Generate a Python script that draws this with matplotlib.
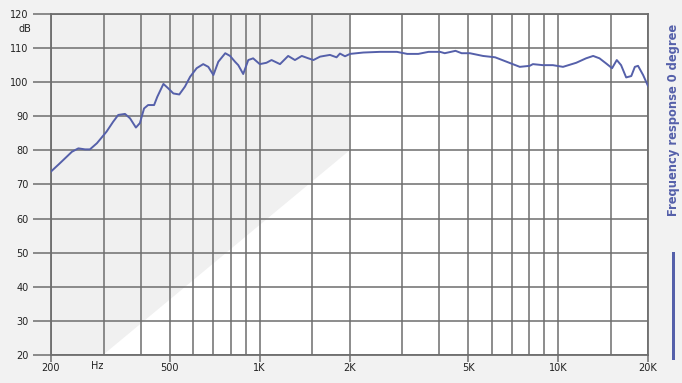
import matplotlib
matplotlib.use("Agg")
import matplotlib.pyplot as plt
from matplotlib.patches import Polygon, Rectangle

# frequency response (Hz, dB)
freq = [200, 214, 235, 247, 260, 270, 285, 307, 323, 336, 354, 368, 385, 397,
        410, 423, 443, 454, 476, 494, 514, 538, 562, 585, 615, 647, 673, 700,
        727, 767, 796, 827, 848, 881, 916, 951, 1001, 1054, 1096, 1170, 1246,
        1313, 1384, 1456, 1514, 1594, 1720, 1810, 1858, 1932, 2008, 2224, 2530,
        2884, 3120, 3400, 3680, 4020, 4170, 4530, 4750, 5060, 5600, 6150, 6720,
        7440, 8030, 8230, 8890, 9600, 10380, 11500, 12400, 13100, 13760, 14480,
        15160, 15720, 16250, 16900, 17580, 18070, 18520, 19260, 20000]
spl = [73.8, 76.2, 79.6, 80.6, 80.3, 80.3, 82.1, 85.5, 88.4, 90.4, 90.7, 89.4,
       86.7, 88.0, 92.3, 93.3, 93.3, 95.7, 99.5, 98.2, 96.7, 96.4, 98.7, 101.6,
       104.1, 105.3, 104.5, 102.1, 106.0, 108.5, 107.7, 106.0, 105.0, 102.4,
       106.5, 107.0, 105.3, 105.7, 106.5, 105.3, 107.7, 106.5, 107.7, 107.0,
       106.5, 107.5, 108.0, 107.3, 108.4, 107.6, 108.3, 108.7, 108.9, 108.9,
       108.3, 108.3, 108.9, 108.9, 108.5, 109.2, 108.5, 108.5, 107.7, 107.3,
       106.0, 104.5, 104.8, 105.3, 105.0, 105.0, 104.5, 105.7, 107.0, 107.7,
       107.0, 105.5, 104.1, 106.5, 105.0, 101.4, 101.8, 104.5, 104.8, 102.1, 98.9]

grid_freqs = [200, 300, 400, 500, 600, 700, 800, 900, 1000, 1500, 2000, 3000,
              4000, 5000, 6000, 7000, 8000, 9000, 10000, 15000, 20000]
label_freqs = [200, 500, 1000, 2000, 5000, 10000, 20000]
freq_labels = ["200", "500", "1K", "2K", "5K", "10K", "20K"]
db_ticks = [20, 30, 40, 50, 60, 70, 80, 90, 100, 110, 120]

series_name = "Frequency response 0 degree"
blue = "#5560aa"
gridc = "#6e6e6e"
txtc = "#222222"

fig = plt.figure(figsize=(6.82, 3.83), dpi=100, facecolor="#f2f2f2")
ax = fig.add_axes([51 / 682, 1 - 355 / 383, 597 / 682, 341 / 383])
ax.set_facecolor("white")

# faint watermark shape behind the grid
ax.add_patch(Polygon([(0, 1), (0.50, 1), (0.50, 0.60), (0.087, 0), (0, 0)],
                     closed=True, transform=ax.transAxes, facecolor="#f0f0f0",
                     edgecolor="none", zorder=0))

ax.set_xscale("log")
ax.set_xlim(200, 20000)
ax.set_ylim(20, 120)

ax.set_xticks(label_freqs)
ax.set_xticklabels(freq_labels, fontsize=7, color=txtc)
ax.set_xticks([f for f in grid_freqs if f not in label_freqs], minor=True)
ax.xaxis.set_minor_formatter(plt.NullFormatter())
ax.tick_params(axis="x", which="major", length=5, color=gridc, width=1.1, pad=1)
ax.tick_params(axis="x", which="minor", length=0)

ax.set_yticks(db_ticks)
ax.set_yticklabels([str(v) for v in db_ticks], fontsize=7, color=txtc)
ax.tick_params(axis="y", length=13, color=gridc, width=1.1, pad=3)

ax.grid(True, which="both", color=gridc, linewidth=1.1)
ax.set_axisbelow(True)
for s in ax.spines.values():
    s.set_color(gridc)
    s.set_linewidth(1.3)

ax.annotate("Hz", xy=(285, 20), xytext=(0, -4.5), textcoords="offset points",
            fontsize=7, color=txtc, ha="center", va="top",
            annotation_clip=False)
ax.annotate("dB", xy=(0, 115.5), xycoords=("axes fraction", "data"),
            xytext=(-19, 0), textcoords="offset points", fontsize=7,
            color=txtc, ha="center", va="center", annotation_clip=False)

ax.plot(freq, spl, color=blue, linewidth=1.4, zorder=3)

# vertical legend on the right
fig.text(673 / 682, 1 - 120 / 383, series_name, rotation=90, ha="center",
         va="center", fontsize=8.3, fontweight="bold", color=blue)
fig.add_artist(Rectangle((671.5 / 682, 1 - 360 / 383), 3 / 682, 108 / 383,
                         transform=fig.transFigure, facecolor=blue,
                         edgecolor="none"))

fig.savefig("out.png", dpi=100, facecolor=fig.get_facecolor())
